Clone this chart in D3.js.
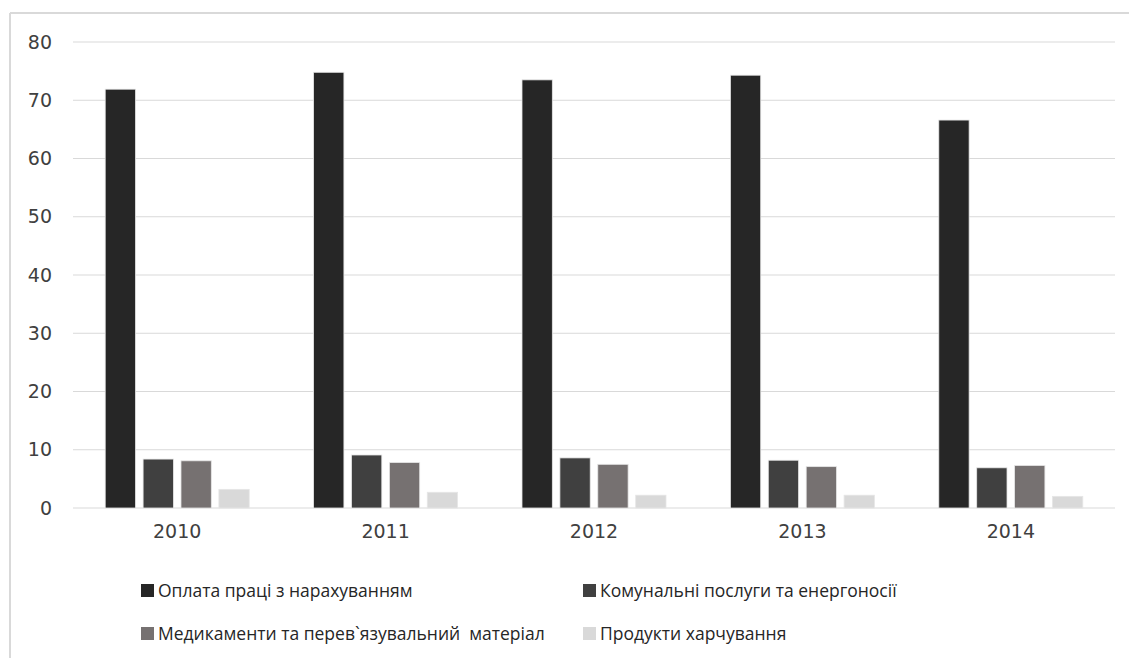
<!DOCTYPE html>
<html>
<head>
<meta charset="utf-8">
<script src="https://cdn.jsdelivr.net/npm/d3@7"></script>
<style>
  body { margin: 0; background: #fff; }
  svg { display: block; }
  .tick text { font-family: "DejaVu Sans", sans-serif; fill: #404040; }
  .legend text { font-family: "Open Sans", sans-serif; fill: #262626; white-space: pre; }
</style>
</head>
<body>
<svg id="chart" width="1129" height="658"></svg>
<script>
"use strict";

var years = ['2010', '2011', '2012', '2013', '2014'];
var seriesNames = [
  'Оплата праці з нарахуванням',
  'Комунальні послуги та енергоносії',
  'Медикаменти та перев`язувальний  матеріал',
  'Продукти харчування'
];
var wages = [71.9, 74.8, 73.5, 74.3, 66.6];
var utilities = [8.4, 9.1, 8.6, 8.2, 6.9];
var medicine = [8.1, 7.8, 7.5, 7.1, 7.3];
var food = [3.2, 2.7, 2.2, 2.2, 2.0];
var yTicks = [0, 10, 20, 30, 40, 50, 60, 70, 80];
var colors = ['#262626', '#404040', '#767171', '#d9d9d9'];

var values = [wages, utilities, medicine, food];

function make_chart(svg) {
  var margin = { top: 42, left: 73, right: 14, bottom: 150 };
  var width = 1129 - margin.left - margin.right;
  var height = 658 - margin.top - margin.bottom;

  // frame (only top and left visible in the original)
  svg.append('line').attr('x1', 10).attr('x2', 1129).attr('y1', 13).attr('y2', 13)
    .attr('stroke', '#d9d9d9').attr('stroke-width', 2);
  svg.append('line').attr('x1', 10).attr('x2', 10).attr('y1', 13).attr('y2', 658)
    .attr('stroke', '#d9d9d9').attr('stroke-width', 2);

  var plot = svg.append('g')
    .attr('transform', 'translate(' + margin.left + ',' + margin.top + ')');

  var _x = d3.scaleBand().domain(years).range([0, width]);
  var _x1 = d3.scaleBand().domain(d3.range(seriesNames.length))
    .range([-72, 72]).paddingInner(0.2);
  var _y = d3.scaleLinear().domain([0, 80]).range([height, 0]);

  // gridlines
  plot.append('g')
    .selectAll('line')
    .data(yTicks)
    .join('line')
    .attr('x1', 0).attr('x2', width)
    .attr('y1', function (d) { return _y(d); })
    .attr('y2', function (d) { return _y(d); })
    .attr('stroke', '#d9d9d9')
    .attr('stroke-width', 1);

  var yaxis = d3.axisLeft(_y).tickValues(yTicks).tickSize(0).tickPadding(21);
  plot.append('g')
    .call(yaxis)
    .call(function (g) { g.select('.domain').remove(); })
    .selectAll('text').attr('font-size', 19);

  var groups = plot.append('g')
    .selectAll('g')
    .data(years)
    .join('g')
    .attr('transform', function (d) {
      return 'translate(' + (_x(d) + _x.bandwidth() / 2) + ',0)';
    });

  groups.selectAll('rect')
    .data(function (d, i) {
      return values.map(function (s, k) { return { k: k, v: s[i] }; });
    })
    .join('rect')
    .attr('x', function (d) { return _x1(d.k); })
    .attr('width', _x1.bandwidth())
    .attr('y', function (d) { return _y(d.v); })
    .attr('height', function (d) { return _y(0) - _y(d.v); })
    .attr('fill', function (d) { return colors[d.k]; })
    .attr('stroke', '#e6e6e6')
    .attr('stroke-width', 0.8);

  var xaxis = d3.axisBottom(_x).tickSize(0).tickPadding(17);
  plot.append('g')
    .attr('transform', 'translate(0,' + height + ')')
    .call(xaxis)
    .call(function (g) { g.select('.domain').remove(); })
    .selectAll('text').attr('font-size', 19);

  // legend
  var legendPos = [[141, 591], [583, 591], [141, 634], [583, 634]];
  var legend = svg.append('g').attr('class', 'legend')
    .selectAll('g')
    .data(seriesNames)
    .join('g')
    .attr('transform', function (d, i) {
      return 'translate(' + legendPos[i][0] + ',' + legendPos[i][1] + ')';
    });
  legend.append('rect')
    .attr('x', 0).attr('y', -7).attr('width', 13).attr('height', 13)
    .attr('fill', function (d, i) { return colors[i]; });
  legend.append('text')
    .attr('x', 17).attr('dy', '0.35em')
    .attr('font-size', 17.5)
    .text(function (d) { return d; });
}

make_chart(d3.select('#chart'));
</script>
</body>
</html>
